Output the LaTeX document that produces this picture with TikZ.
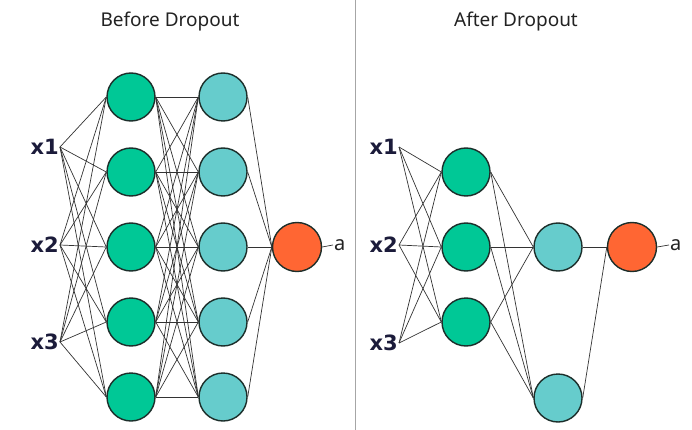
\documentclass[tikz,border=0pt]{standalone}
\usepackage{fontspec}
\setmainfont{Noto Sans}
\newfontfamily\labfont{DejaVu Sans}
\definecolor{hgreen}{HTML}{00C896}
\definecolor{hteal}{HTML}{66CCCC}
\definecolor{horange}{HTML}{FF6633}
\definecolor{nborder}{HTML}{1C2E2A}
\definecolor{linkgray}{HTML}{333333}
\definecolor{navy}{HTML}{1B1B3A}
\definecolor{titlegray}{HTML}{222222}
\begin{document}
\begin{tikzpicture}[x=1pt,y=-1pt,
  neuron/.style={circle, draw=nborder, line width=1.4pt, minimum size=48pt, inner sep=0pt},
  hidA/.style={neuron, fill=hgreen},
  hidB/.style={neuron, fill=hteal},
  outn/.style={neuron, fill=horange, minimum size=49pt},
  link/.style={draw=linkgray, line width=0.7pt},
  inlab/.style={font=\labfont\bfseries\fontsize{21}{21}\selectfont, text=navy, anchor=east, inner sep=1pt},
  outlab/.style={font=\fontsize{20}{20}\selectfont, text=titlegray, anchor=west, inner sep=1pt},
  ttl/.style={font=\fontsize{19}{19}\selectfont, text=titlegray}
]
\useasboundingbox (0,0) rectangle (692,430);
% titles
\node[ttl] (t1) at (170,22) {Before Dropout};
\node[ttl] (t2) at (516,22) {After Dropout};
% divider
\draw[draw=gray!70, line width=1pt] (355,0) -- (355,430);

% ---------- Before Dropout ----------
\node[inlab] (x1) at (60,147) {x1};
\node[inlab] (x2) at (60,245) {x2};
\node[inlab] (x3) at (60,342) {x3};
\foreach \i/\y in {1/97,2/172,3/247,4/322,5/397}{
  \node[hidA] (g\i) at (131,\y) {};
  \node[hidB] (t\i) at (223,\y) {};
}
\node[outn] (o) at (297,247) {};
\node[outlab] (a) at (333,245) {a};
\foreach \k in {1,2,3}{
  \foreach \i in {1,...,5}{
    \draw[link] (x\k.east) -- (g\i.west);
  }
}
\foreach \i in {1,...,5}{
  \foreach \j in {1,...,5}{
    \draw[link] (g\i.east) -- (t\j.west);
  }
  \draw[link] (t\i.east) -- (o.west);
}
\draw[link] (o.east) -- (a.west);

% ---------- After Dropout ----------
\node[inlab] (X1) at (399,147) {x1};
\node[inlab] (X2) at (399,245) {x2};
\node[inlab] (X3) at (399,343) {x3};
\node[hidA] (G2) at (466,172) {};
\node[hidA] (G3) at (466,247) {};
\node[hidA] (G4) at (466,322) {};
\node[hidB] (T3) at (558,247) {};
\node[hidB] (T5) at (558,398) {};
\node[outn] (O) at (632,247) {};
\node[outlab] (A) at (669,245) {a};
\foreach \k in {1,2,3}{
  \foreach \i in {2,3,4}{
    \draw[link] (X\k.east) -- (G\i.west);
  }
}
\foreach \i in {2,3,4}{
  \draw[link] (G\i.east) -- (T3.west);
  \draw[link] (G\i.east) -- (T5.west);
}
\draw[link] (T3.east) -- (O.west);
\draw[link] (T5.east) -- (O.west);
\draw[link] (O.east) -- (A.west);
\end{tikzpicture}
\end{document}
